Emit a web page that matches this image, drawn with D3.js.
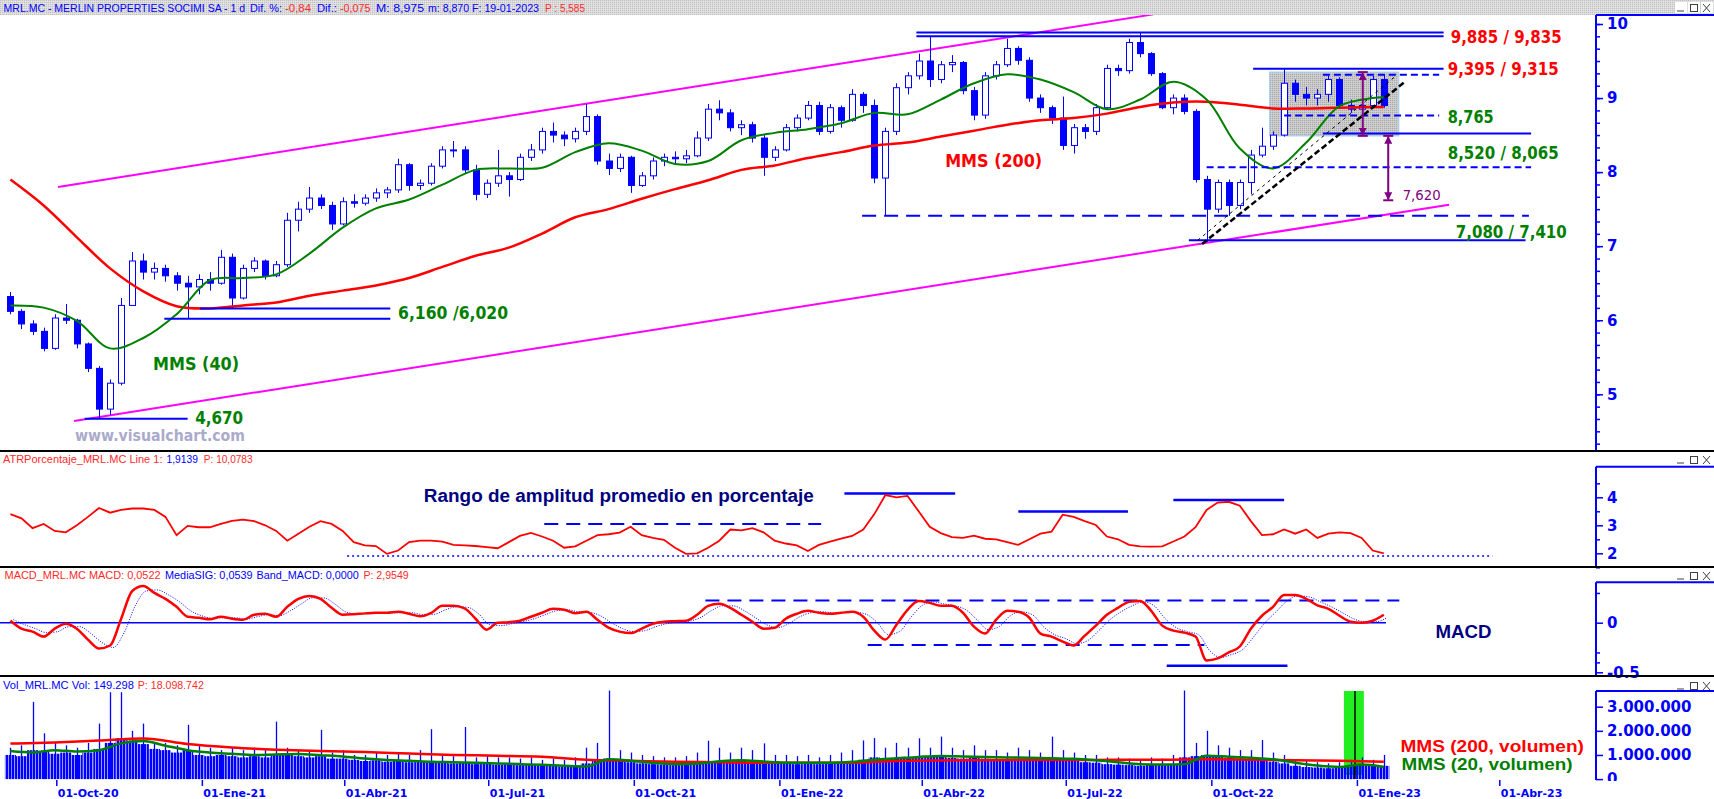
<!DOCTYPE html>
<html>
<head>
<meta charset="utf-8">
<title>MRL.MC</title>
<script src="https://cdn.jsdelivr.net/npm/d3@7/dist/d3.min.js"></script>
<style>
  body { margin: 0; background: #fff; }
  svg { display: block; font-family: "DejaVu Sans", Verdana, sans-serif; }
</style>
</head>
<body>
<div id="chart"></div>
<script>
// weekly values; week 0 = week of 31-Aug-2020, last = week of 16-Jan-2023
const firstWeekMid = new Date(2020, 8, 2);

const open = [
  6.32,6.12,5.95,5.85,5.62,6.03,6.00,5.68,5.35,4.80,
  5.15,6.20,6.80,6.65,6.70,6.60,6.50,6.45,6.55,6.50,
  6.85,6.30,6.70,6.80,6.60,6.75,7.35,7.50,7.65,7.55,
  7.30,7.60,7.58,7.65,7.72,7.76,8.10,7.82,7.85,8.08,
  8.30,8.30,8.03,7.70,7.85,7.95,7.90,8.20,8.30,8.55,
  8.50,8.45,8.55,8.75,8.15,8.05,8.20,7.82,7.95,8.15,
  8.20,8.18,8.22,8.46,8.85,8.80,8.60,8.64,8.46,8.20,
  8.30,8.60,8.73,8.90,8.55,8.87,8.70,9.05,8.90,7.92,
  8.55,9.14,9.30,9.50,9.25,9.45,9.48,9.10,8.77,9.30,
  9.45,9.67,9.51,9.00,8.87,8.73,8.36,8.60,8.55,8.87,
  9.40,9.37,9.75,9.60,9.33,8.87,9.00,8.82,7.90,7.50,
  7.86,7.55,7.86,8.23,8.35,8.50,9.20,9.05,9.00,9.05,
  9.25,8.90,8.85,8.90,9.25];
const high = [
  6.38,6.15,6.00,5.90,6.08,6.22,6.02,5.70,5.38,5.20,
  6.30,6.92,6.90,6.78,6.75,6.65,6.60,6.62,6.65,6.95,
  6.90,6.75,6.85,6.82,6.80,7.45,7.60,7.80,7.70,7.60,
  7.66,7.70,7.70,7.78,7.80,8.18,8.12,7.90,8.12,8.35,
  8.42,8.35,8.10,7.90,8.30,8.00,8.25,8.38,8.60,8.67,
  8.55,8.60,8.92,8.78,8.25,8.25,8.22,8.00,8.20,8.25,
  8.28,8.30,8.55,8.92,8.97,8.85,8.70,8.68,8.50,8.35,
  8.65,8.78,8.96,8.95,8.92,8.90,9.12,9.08,8.98,8.60,
  9.20,9.35,9.60,9.835,9.50,9.58,9.50,9.15,9.35,9.50,
  9.80,9.70,9.55,9.05,8.90,9.02,8.65,8.65,8.92,9.45,
  9.45,9.80,9.885,9.62,9.35,9.05,9.05,8.85,7.95,7.90,
  7.90,7.90,8.30,8.60,8.55,9.395,9.25,9.15,9.12,9.30,
  9.28,8.98,8.95,9.30,9.32];
const low = [
  6.08,5.88,5.80,5.58,5.60,5.95,5.62,5.30,4.67,4.72,
  5.12,6.20,6.55,6.55,6.52,6.40,6.02,6.35,6.40,6.48,
  6.16,6.28,6.65,6.55,6.58,6.72,7.20,7.45,7.50,7.22,
  7.28,7.52,7.55,7.60,7.65,7.72,7.75,7.76,7.82,8.05,
  8.20,7.98,7.62,7.65,7.80,7.67,7.88,8.15,8.25,8.40,
  8.35,8.40,8.50,8.10,7.96,8.00,7.72,7.80,7.90,8.08,
  8.10,8.12,8.20,8.42,8.70,8.55,8.50,8.40,7.95,8.15,
  8.28,8.55,8.70,8.50,8.52,8.60,8.68,8.80,7.85,7.41,
  8.50,9.05,9.25,9.15,9.20,9.35,9.05,8.70,8.72,9.25,
  9.42,9.45,8.95,8.80,8.65,8.30,8.25,8.45,8.50,8.85,
  9.30,9.33,9.55,9.30,8.85,8.78,8.78,7.86,7.06,7.45,
  7.41,7.50,7.70,8.20,8.30,8.48,8.95,8.90,8.90,8.95,
  8.85,8.80,8.80,8.88,8.87];
const close = [
  6.12,5.95,5.85,5.62,6.03,6.00,5.68,5.35,4.80,5.15,
  6.20,6.80,6.65,6.70,6.60,6.50,6.45,6.55,6.50,6.85,
  6.30,6.70,6.80,6.60,6.75,7.35,7.50,7.65,7.55,7.30,
  7.60,7.58,7.65,7.72,7.76,8.10,7.82,7.85,8.08,8.30,
  8.30,8.03,7.70,7.85,7.95,7.90,8.20,8.30,8.55,8.50,
  8.45,8.55,8.75,8.15,8.05,8.20,7.82,7.95,8.15,8.20,
  8.18,8.22,8.46,8.85,8.80,8.60,8.64,8.46,8.20,8.30,
  8.60,8.73,8.90,8.55,8.87,8.70,9.05,8.90,7.92,8.55,
  9.14,9.30,9.50,9.25,9.45,9.48,9.10,8.77,9.30,9.45,
  9.67,9.51,9.00,8.87,8.73,8.36,8.60,8.55,8.87,9.40,
  9.37,9.75,9.60,9.33,8.87,9.00,8.82,7.90,7.50,7.86,
  7.55,7.86,8.23,8.35,8.50,9.20,9.05,9.00,9.05,9.25,
  8.90,8.85,8.90,9.25,8.90];

// moving averages on price, sampled every 3 weeks
const maWeeks = [0,3,6,9,12,15,18,21,24,27,30,33,36,39,42,45,48,51,54,57,60,63,66,69,72,75,78,81,84,87,90,93,96,99,102,105,108,111,114,117,120,123,124];
const mms200 = [7.90,7.55,7.12,6.70,6.39,6.19,6.16,6.20,6.24,6.33,6.40,6.47,6.57,6.72,6.87,6.98,7.17,7.39,7.50,7.64,7.77,7.89,8.03,8.09,8.19,8.27,8.36,8.40,8.48,8.56,8.64,8.70,8.73,8.79,8.88,8.94,8.95,8.91,8.86,8.86,8.87,8.88,8.88];
const mms40 = [6.20,6.17,5.99,5.62,5.76,6.08,6.54,6.57,6.62,6.90,7.25,7.51,7.63,7.83,8.03,8.05,8.06,8.27,8.39,8.29,8.11,8.15,8.43,8.53,8.58,8.66,8.80,8.78,8.98,9.20,9.32,9.25,9.08,8.85,8.98,9.22,8.98,8.32,8.05,8.40,8.89,9.00,9.01];

// ATR %
const atr = [
  3.40,3.25,2.90,3.05,2.80,2.75,3.00,3.30,3.62,3.45,
  3.55,3.60,3.60,3.55,3.30,2.65,2.98,2.93,2.93,3.05,
  3.16,3.20,3.15,3.00,2.80,2.45,2.70,2.95,3.15,3.05,
  2.80,2.40,2.28,2.26,1.98,2.10,2.40,2.45,2.45,2.42,
  2.30,2.28,2.26,2.22,2.18,2.40,2.62,2.73,2.60,2.45,
  2.20,2.25,2.45,2.65,2.68,2.74,2.95,2.65,2.55,2.48,
  2.20,1.98,2.00,2.20,2.45,2.85,2.82,2.90,2.75,2.45,
  2.35,2.28,2.08,2.30,2.42,2.52,2.62,2.85,3.40,4.08,
  4.00,4.05,3.50,2.95,2.72,2.58,2.55,2.63,2.52,2.50,
  2.40,2.30,2.50,2.70,2.77,3.38,3.30,3.15,3.01,2.60,
  2.50,2.30,2.25,2.24,2.25,2.42,2.60,2.93,3.55,3.81,
  3.84,3.70,3.15,2.65,2.68,2.85,2.70,2.85,2.55,2.70,
  2.75,2.72,2.55,2.10,2.00];

// MACD and signal
const macd = [
  0.02,-0.06,-0.09,-0.14,-0.06,-0.01,-0.06,-0.17,-0.26,-0.23,
  0.04,0.32,0.37,0.30,0.24,0.16,0.06,0.05,0.035,0.06,
  0.04,0.03,0.08,0.09,0.06,0.16,0.24,0.27,0.24,0.15,
  0.08,0.085,0.094,0.10,0.10,0.11,0.09,0.065,0.10,0.17,
  0.17,0.145,0.04,-0.07,0.0,0.005,0.02,0.06,0.10,0.14,
  0.13,0.095,0.11,0.03,-0.05,-0.09,-0.105,-0.06,-0.01,0.01,
  0.015,0.02,0.08,0.17,0.19,0.15,0.08,0.01,-0.06,-0.05,
  0.04,0.09,0.12,0.10,0.09,0.10,0.11,0.06,-0.08,-0.17,
  -0.02,0.13,0.22,0.20,0.17,0.17,0.10,-0.04,-0.11,0.03,
  0.12,0.11,0.05,-0.11,-0.14,-0.19,-0.23,-0.13,-0.03,0.08,
  0.15,0.21,0.22,0.12,-0.03,-0.08,-0.10,-0.14,-0.38,-0.36,
  -0.30,-0.24,-0.06,0.07,0.16,0.28,0.28,0.24,0.175,0.14,
  0.07,0.01,0.0,0.02,0.08];
const macdSig = [
  0.03,-0.02,-0.06,-0.10,-0.09,-0.04,-0.04,-0.11,-0.20,-0.25,
  -0.10,0.17,0.32,0.33,0.28,0.21,0.12,0.07,0.045,0.05,
  0.05,0.035,0.06,0.08,0.07,0.12,0.19,0.25,0.25,0.19,
  0.11,0.09,0.09,0.095,0.10,0.10,0.10,0.08,0.085,0.13,
  0.16,0.155,0.09,-0.02,-0.03,-0.01,0.01,0.04,0.08,0.12,
  0.13,0.11,0.105,0.07,0.0,-0.06,-0.09,-0.08,-0.04,-0.01,
  0.005,0.015,0.05,0.12,0.17,0.17,0.12,0.05,-0.02,-0.05,
  -0.01,0.06,0.10,0.11,0.10,0.10,0.105,0.085,0.0,-0.12,
  -0.09,0.05,0.17,0.21,0.19,0.17,0.13,0.03,-0.07,-0.04,
  0.07,0.11,0.08,-0.04,-0.12,-0.16,-0.21,-0.18,-0.08,0.03,
  0.11,0.17,0.21,0.17,0.04,-0.05,-0.09,-0.12,-0.28,-0.35,
  -0.32,-0.27,-0.14,0.0,0.11,0.22,0.27,0.26,0.21,0.16,
  0.10,0.04,0.01,0.01,0.05];

// volume in millions: typical daily level of the week and the week's peak day
const volAvg = [
  1.00,0.95,1.20,1.15,1.05,1.10,1.00,1.10,1.25,1.50,
  1.70,1.60,1.45,1.25,1.20,1.10,1.20,1.00,0.95,1.00,
  0.95,0.90,0.95,0.90,1.00,1.00,0.95,0.90,0.95,0.85,
  0.85,0.80,0.75,0.78,0.72,0.75,0.70,0.72,0.68,0.70,
  0.65,0.70,0.62,0.65,0.60,0.62,0.58,0.60,0.55,0.58,
  0.52,0.55,0.65,0.80,0.85,0.75,0.70,0.65,0.62,0.60,
  0.58,0.60,0.65,0.75,0.75,0.72,0.75,0.70,0.72,0.65,
  0.65,0.62,0.65,0.62,0.65,0.68,0.70,0.80,0.90,0.85,
  0.85,0.88,0.90,0.92,0.95,0.88,0.85,0.90,0.85,0.82,
  0.80,0.85,0.82,0.80,0.85,0.78,0.75,0.70,0.68,0.62,
  0.60,0.58,0.55,0.60,0.58,0.62,0.90,0.95,1.00,0.92,
  0.88,0.85,0.82,0.80,0.72,0.65,0.55,0.50,0.48,0.45,
  0.50,0.55,0.60,0.55,0.55];
const volMax = [
  1.30,1.40,3.20,1.90,1.50,1.40,1.30,1.50,2.30,3.60,
  3.60,2.00,2.30,1.50,1.50,1.40,2.25,1.40,1.30,1.20,
  1.30,1.20,1.30,1.20,2.38,1.30,1.20,1.20,2.04,1.10,
  1.20,1.00,1.00,1.10,1.00,1.05,1.00,1.20,2.07,1.00,
  0.95,2.16,0.90,0.95,0.90,0.90,0.85,0.90,0.80,0.85,
  0.80,0.90,1.30,1.50,3.67,1.20,1.10,1.00,0.95,0.90,
  0.90,0.95,1.10,1.59,1.30,1.10,1.30,1.20,1.48,1.00,
  1.00,0.95,1.00,0.90,1.00,1.10,1.20,1.60,1.70,1.30,
  1.50,1.30,1.69,1.30,1.76,1.30,1.20,1.40,1.20,1.20,
  1.10,1.30,1.20,1.10,1.76,1.20,1.10,1.00,1.00,0.90,
  0.90,0.85,0.80,0.90,0.85,1.00,3.67,1.50,2.00,1.40,
  1.30,1.20,1.20,1.62,1.10,1.00,0.80,0.75,0.70,0.65,
  0.70,0.80,0.90,0.80,1.00];
const vma200Weeks = [0,4,8,12,16,20,24,28,32,36,40,44,48,52,56,60,64,68,72,76,80,84,88,92,96,100,104,108,112,116,120,124];
const volMms200 = [1.47,1.52,1.60,1.68,1.45,1.31,1.22,1.16,1.12,1.06,1.00,0.97,0.93,0.80,0.76,0.72,0.70,0.68,0.68,0.68,0.75,0.77,0.78,0.79,0.79,0.80,0.80,0.82,0.80,0.78,0.76,0.72];
const vma20Weeks = [0,2,4,6,8,10,12,14,16,18,20,22,24,26,28,30,32,34,36,38,40,42,44,46,48,50,52,54,56,58,60,62,64,66,68,70,72,74,76,78,80,82,84,86,88,90,92,94,96,98,100,102,104,106,108,110,112,114,116,118,120,122,124];
const volMms20 = [1.16,1.10,1.20,1.14,1.20,1.48,1.58,1.38,1.20,1.10,1.05,1.00,1.02,1.04,0.99,0.94,0.85,0.79,0.76,0.72,0.70,0.68,0.65,0.62,0.59,0.55,0.52,0.82,0.76,0.67,0.62,0.64,0.74,0.78,0.73,0.68,0.68,0.68,0.72,0.80,0.86,0.92,0.96,0.94,0.92,0.90,0.88,0.86,0.84,0.78,0.70,0.62,0.60,0.62,0.97,0.93,0.88,0.82,0.68,0.56,0.50,0.60,0.50];

// axis ticks
const priceTicks = [5, 6, 7, 8, 9, 10];
const atrTicks = [2, 3, 4];
const macdTicks = [0, -0.5];
const macdLabels = ["0", "-0.5"];
const volTicks = [0, 1, 2, 3];
const volLabels = ["0", "1.000.000", "2.000.000", "3.000.000"];
const dateTicks = ["2020-10-01","2021-01-01","2021-04-01","2021-07-01","2021-10-01","2022-01-01","2022-04-01","2022-07-01","2022-10-01","2023-01-01","2023-04-01"];
const dateLabels = ["01-Oct-20","01-Ene-21","01-Abr-21","01-Jul-21","01-Oct-21","01-Ene-22","01-Abr-22","01-Jul-22","01-Oct-22","01-Ene-23","01-Abr-23"];

// drawn annotations (week index, value)
const channels = [[4.3, 7.80, 103.2, 10.13], [5.75, 4.64, 129.9, 7.56]];
const levels = [
  [9.885, 81.8, 129.4, "solid"], [9.835, 81.8, 129.4, "solid"],
  [9.395, 112.2, 129.4, "solid"], [9.315, 118.5, 129, "dash"],
  [8.765, 115, 129, "dash"], [8.520, 118.5, 137.3, "solid"],
  [8.065, 108, 137.3, "dash"], [7.410, 76.9, 137.1, "long"],
  [7.080, 106.4, 136.8, "solid"], [6.160, 17.1, 34.3, "solid"],
  [6.020, 13.9, 34.3, "solid"], [4.670, 6.7, 16, "solid"]
];
const rangeBox = [113.7, 125.35, 9.35, 8.49];
const trendThick = [107.6, 7.03, 126, 9.23];
const trendThin = [107.2, 7.08, 125.1, 9.30];
const arrows = [[122.1, 9.35, 8.49], [124.4, 8.49, 7.62]];
const atrLevels = [[1.9, 30.4, 133.8, "dot"], [3.05, 48.2, 73.2, "long"], [4.14, 75.3, 85.3, "solid"], [3.49, 91, 100.9, "solid"], [3.9, 105, 115, "solid"]];
const macdLevels = [[0.225, 62.75, 125.4, "long"], [-0.225, 77.4, 107.8, "long"], [-0.433, 104.4, 115.3, "solid"]];
const volMark = [120.4, 122.2, 121.4];

const W = 1714, H = 799, AX = 1596;
const BLUE = "#0000ff", RED = "#ff0000", GREEN = "#008000", MAG = "#ff00ff", NAVY = "#000080", PURPLE = "#800080";
const parse = d3.timeParse("%Y-%m-%d");

const svg = d3.select("#chart").append("svg").attr("width", W).attr("height", H);
const defs = svg.append("defs");

const x = d3.scaleTime().domain([parse("2020-10-01"), parse("2023-01-01")]).range([56.3, 1356.9]);
const wx = k => x(new Date(firstWeekMid.getTime() + k * 7 * 864e5));

const yP = d3.scaleLinear().domain([5, 10]).range([394.3, 24]);
const yA = d3.scaleLinear().domain([2, 4]).range([553.3, 497.3]);
const yM = d3.scaleLinear().domain([-0.5, 0]).range([672.3, 622.7]);
const yV = d3.scaleLinear().domain([0, 3]).range([779.1, 706.7]);

// patterns, clips, markers
function dither(id, base, a, b) {
  const p = defs.append("pattern").attr("id", id).attr("width", 2).attr("height", 2).attr("patternUnits", "userSpaceOnUse");
  p.append("rect").attr("width", 2).attr("height", 2).attr("fill", base);
  p.append("rect").attr("width", 1).attr("height", 1).attr("fill", a);
  p.append("rect").attr("x", 1).attr("y", 1).attr("width", 1).attr("height", 1).attr("fill", b);
}
dither("hdr", "#dadada", "#c2c2c2", "#e6e6e6");
dither("box", "#c8c8c8", "#a8a8a8", "#d4d4d4");
const vp = defs.append("pattern").attr("id", "vstripe").attr("width", 3).attr("height", 4).attr("patternUnits", "userSpaceOnUse");
vp.append("rect").attr("width", 2.4).attr("height", 4).attr("fill", BLUE);

function clip(id, top, bottom) {
  defs.append("clipPath").attr("id", id).append("rect").attr("x", 0).attr("y", top).attr("width", AX - 1).attr("height", bottom - top);
}
clip("c-main", 15, 450); clip("c-atr", 452, 566); clip("c-macd", 568, 675); clip("c-vol", 677, 780);

defs.append("marker").attr("id", "arr").attr("viewBox", "0 0 8 8").attr("refX", 7).attr("refY", 4)
  .attr("markerWidth", 8).attr("markerHeight", 8).attr("markerUnits", "userSpaceOnUse")
  .attr("orient", "auto-start-reverse")
  .append("path").attr("d", "M0,0 L8,4 L0,8 z").attr("fill", PURPLE);

const dashes = { solid: null, dash: "7,4", long: "14,8", dot: "2,3" };

// header bar
svg.append("rect").attr("width", W).attr("height", 15).attr("fill", "url(#hdr)");
function title(parts, yc, size) {
  const t = svg.append("g");
  parts.forEach(p => {
    t.append("text").attr("x", p[1]).attr("y", yc).attr("dy", "0.36em")
      .attr("textLength", p[2]).attr("lengthAdjust", "spacingAndGlyphs")
      .attr("fill", p[3]).style("font", `${size}px 'Liberation Sans', Arial, sans-serif`).text(p[0]);
  });
}
const HR = "#ff2a2a";
title([["MRL.MC - MERLIN PROPERTIES SOCIMI SA -  1 d", 3.6, 241.4, BLUE], ["Dif. %:", 250, 32, BLUE],
  ["-0,84", 285, 26, HR], ["Dif.:", 317, 20, BLUE], ["-0,075", 340, 30.5, HR], ["M: 8,975", 376, 48, BLUE],
  ["m: 8,870", 428, 41, BLUE], ["F: 19-01-2023", 472, 67, BLUE], ["P : 5,585", 545, 40, HR]], 8, 10);
title([["ATRPorcentaje_MRL.MC Line 1:", 2.9, 159.6, HR], ["1,9139", 166.5, 31.5, BLUE], ["P: 10,0783", 203.8, 48.8, HR]], 459, 11);
title([["MACD_MRL.MC MACD: 0,0522", 4.6, 156, HR], ["MediaSIG: 0,0539", 165, 87.6, BLUE], ["Band_MACD: 0,0000", 256.6, 102.2, BLUE], ["P: 2,9549", 363.4, 45.3, HR]], 575, 11);
title([["Vol_MRL.MC Vol: 149.298", 2.9, 131, BLUE], ["P: 18.098.742", 137.8, 66, HR]], 685, 11);

// window buttons
function buttons(yc, boxed) {
  const b = svg.append("g").attr("stroke", "#404040").attr("fill", "none").attr("stroke-width", 1);
  [1676, 1689, 1702].forEach((bx, i) => {
    if (boxed) b.append("rect").attr("x", bx - 1).attr("y", yc - 6).attr("width", 12).attr("height", 11).attr("fill", "#fff").attr("stroke", "none");
    if (i === 0) b.append("line").attr("x1", bx + 1).attr("x2", bx + 8).attr("y1", yc + 3).attr("y2", yc + 3);
    if (i === 1) b.append("rect").attr("x", bx + 1.5).attr("y", yc - 3.5).attr("width", 7).attr("height", 7);
    if (i === 2) { b.append("line").attr("x1", bx + 1).attr("x2", bx + 8).attr("y1", yc - 4).attr("y2", yc + 4);
                   b.append("line").attr("x1", bx + 8).attr("x2", bx + 1).attr("y1", yc - 4).attr("y2", yc + 4); }
  });
}
buttons(8, true); buttons(460, false); buttons(576, false); buttons(686, false);

function hline(g, scale, lv, width, color) {
  g.selectAll(null).data(lv).join("line")
    .attr("x1", d => wx(d[1])).attr("x2", d => wx(d[2]))
    .attr("y1", d => scale(d[0])).attr("y2", d => scale(d[0]))
    .attr("stroke", color).attr("stroke-width", d => d[3] === "solid" ? width : (d[3] === "dot" ? 1.5 : 2))
    .attr("stroke-dasharray", d => dashes[d[3]]);
}
function label(g, txt, k, yc, color, w, size, weight, fam) {
  g.append("text").attr("x", wx(k)).attr("y", yc).attr("dy", "0.36em")
    .attr("textLength", w).attr("lengthAdjust", "spacingAndGlyphs")
    .attr("fill", color).style("font", `${weight} ${size}px ${fam || "'DejaVu Sans', Verdana, sans-serif"}`).text(txt);
}

// ---------- price panel ----------
const gm = svg.append("g").attr("clip-path", "url(#c-main)");
gm.append("rect").attr("x", wx(rangeBox[0])).attr("width", wx(rangeBox[1]) - wx(rangeBox[0]))
  .attr("y", yP(rangeBox[2])).attr("height", yP(rangeBox[3]) - yP(rangeBox[2]))
  .attr("fill", "url(#box)").attr("stroke", "#a6cdf0").attr("stroke-width", 1.2);

gm.selectAll("line.ch").data(channels).join("line")
  .attr("x1", d => wx(d[0])).attr("y1", d => yP(d[1])).attr("x2", d => wx(d[2])).attr("y2", d => yP(d[3]))
  .attr("stroke", MAG).attr("stroke-width", 2);

const weeks = d3.range(close.length);
gm.selectAll("line.wick").data(weeks).join("line")
  .attr("x1", k => Math.round(wx(k)) + 0.5).attr("x2", k => Math.round(wx(k)) + 0.5)
  .attr("y1", k => yP(high[k])).attr("y2", k => yP(low[k]))
  .attr("stroke", BLUE).attr("stroke-width", 1);
gm.selectAll("rect.body").data(weeks).join("rect")
  .attr("x", k => Math.round(wx(k)) - 2.5).attr("width", 6)
  .attr("y", k => yP(Math.max(open[k], close[k])))
  .attr("height", k => Math.max(1, Math.abs(yP(open[k]) - yP(close[k]))))
  .attr("fill", k => close[k] >= open[k] ? "#fff" : BLUE)
  .attr("stroke", BLUE).attr("stroke-width", 1);

const maLine = d3.line().x(d => wx(d[0])).y(d => yP(d[1])).curve(d3.curveCatmullRom);
gm.append("path").attr("d", maLine(maWeeks.map((k, i) => [k, mms200[i]])))
  .attr("fill", "none").attr("stroke", RED).attr("stroke-width", 2.5);
gm.append("path").attr("d", maLine(maWeeks.map((k, i) => [k, mms40[i]])))
  .attr("fill", "none").attr("stroke", GREEN).attr("stroke-width", 2);

hline(gm, yP, levels, 2, BLUE);

gm.append("line").attr("x1", wx(trendThin[0])).attr("y1", yP(trendThin[1])).attr("x2", wx(trendThin[2])).attr("y2", yP(trendThin[3]))
  .attr("stroke", "#000").attr("stroke-width", 1).attr("stroke-dasharray", "3,4");
gm.append("line").attr("x1", wx(trendThick[0])).attr("y1", yP(trendThick[1])).attr("x2", wx(trendThick[2])).attr("y2", yP(trendThick[3]))
  .attr("stroke", "#000").attr("stroke-width", 2.5).attr("stroke-dasharray", "6,3");

arrows.forEach(a => {
  gm.append("line").attr("x1", wx(a[0])).attr("x2", wx(a[0])).attr("y1", yP(a[1]) + 1).attr("y2", yP(a[2]) - 1)
    .attr("stroke", PURPLE).attr("stroke-width", 2)
    .attr("marker-start", "url(#arr)").attr("marker-end", "url(#arr)");
  [a[1], a[2]].forEach(v => gm.append("line").attr("x1", wx(a[0]) - 5).attr("x2", wx(a[0]) + 5)
    .attr("y1", yP(v)).attr("y2", yP(v)).attr("stroke", PURPLE).attr("stroke-width", 2));
});

label(gm, "MMS (200)", 84.4, yP(8.153), RED, 97, 17, "bold");
label(gm, "MMS (40)", 12.88, yP(5.405), GREEN, 86, 17, "bold");
label(gm, "4,670", 16.68, yP(4.676), GREEN, 48, 17, "bold");
label(gm, "www.visualchart.com", 5.83, yP(4.446), "#aaaacc", 170, 16, "bold");
label(gm, "6,160 /6,020", 35.0, yP(6.10), GREEN, 110, 17, "bold");
label(gm, "9,885 / 9,835", 130.04, yP(9.828), RED, 111, 17, "bold");
label(gm, "9,395 / 9,315", 129.77, yP(9.392), RED, 111, 17, "bold");
label(gm, "8,765", 129.77, yP(8.747), GREEN, 46, 17, "bold");
label(gm, "8,520 / 8,065", 129.77, yP(8.261), GREEN, 111, 17, "bold");
label(gm, "7,080 / 7,410", 130.5, yP(7.193), GREEN, 111, 17, "bold");
label(gm, "7,620", 125.7, yP(7.69), PURPLE, 38, 14, "normal");

// ---------- ATR panel ----------
const ga = svg.append("g").attr("clip-path", "url(#c-atr)");
hline(ga, yA, atrLevels, 2.5, BLUE);
ga.append("path").attr("d", d3.line().x((d, i) => wx(i)).y(d => yA(d))(atr))
  .attr("fill", "none").attr("stroke", RED).attr("stroke-width", 1.8);
label(ga, "Rango de amplitud promedio en porcentaje", 37.33, yA(4.057), NAVY, 390, 18, "bold", "'Liberation Sans', Arial, sans-serif");

// ---------- MACD panel ----------
const gc = svg.append("g").attr("clip-path", "url(#c-macd)");
gc.append("line").attr("x1", wx(-1)).attr("x2", wx(124.2)).attr("y1", yM(0)).attr("y2", yM(0))
  .attr("stroke", BLUE).attr("stroke-width", 1.5);
hline(gc, yM, macdLevels, 2.5, BLUE);
gc.append("path").attr("d", d3.line().x((d, i) => wx(i) + 3).y(d => yM(d)).curve(d3.curveMonotoneX)(macdSig))
  .attr("fill", "none").attr("stroke", BLUE).attr("stroke-width", 1).attr("stroke-dasharray", "1,1.5");
gc.append("path").attr("d", d3.line().x((d, i) => wx(i)).y(d => yM(d)).curve(d3.curveMonotoneX)(macd))
  .attr("fill", "none").attr("stroke", RED).attr("stroke-width", 2.5);
label(gc, "MACD", 128.67, yM(-0.0907), NAVY, 56, 18, "bold", "'Liberation Sans', Arial, sans-serif");

// ---------- volume panel ----------
const gv = svg.append("g").attr("clip-path", "url(#c-vol)");
gv.append("rect").attr("x", wx(volMark[0])).attr("width", wx(volMark[1]) - wx(volMark[0]))
  .attr("y", yV(3.65)).attr("height", yV(0.17) - yV(3.65)).attr("fill", "#22ee22");
const bw = wx(1) - wx(0);
gv.selectAll("rect.vb").data(weeks).join("rect")
  .attr("x", k => wx(k) - bw / 2).attr("width", bw)
  .attr("y", k => yV(volAvg[k])).attr("height", k => yV(0) - yV(volAvg[k]))
  .attr("fill", "url(#vstripe)");
gv.selectAll("line.vs").data(weeks).join("line")
  .attr("x1", k => Math.round(wx(k)) + 0.5).attr("x2", k => Math.round(wx(k)) + 0.5)
  .attr("y1", yV(0)).attr("y2", k => yV(volMax[k]))
  .attr("stroke", BLUE).attr("stroke-width", 1.3);
gv.append("line").attr("x1", wx(volMark[2])).attr("x2", wx(volMark[2])).attr("y1", yV(3.65)).attr("y2", yV(0))
  .attr("stroke", "#000").attr("stroke-width", 1.5);
const vLine = d3.line().x(d => wx(d[0])).y(d => yV(d[1])).curve(d3.curveMonotoneX);
gv.append("path").attr("d", vLine(vma200Weeks.map((k, i) => [k, volMms200[i]])))
  .attr("fill", "none").attr("stroke", RED).attr("stroke-width", 2.5);
gv.append("path").attr("d", vLine(vma20Weeks.map((k, i) => [k, volMms20[i]])))
  .attr("fill", "none").attr("stroke", GREEN).attr("stroke-width", 2.5);
label(gv, "MMS (200, volumen)", 125.5, yV(1.386), RED, 183.5, 17, "bold", "'Liberation Sans', Arial, sans-serif");
label(gv, "MMS (20, volumen)", 125.6, yV(0.614), GREEN, 171, 17, "bold", "'Liberation Sans', Arial, sans-serif");

// ---------- right axes ----------
function rightAxis(scale, top, bottom, majors, labels, minors, clipId) {
  const g = svg.append("g").attr("transform", `translate(${AX},0)`);
  if (clipId) g.attr("clip-path", clipId);
  g.append("line").attr("y1", top).attr("y2", bottom).attr("stroke", BLUE).attr("stroke-width", 2);
  g.append("line").attr("x2", W - AX).attr("y1", top).attr("y2", top).attr("stroke", BLUE).attr("stroke-width", 2);
  if (minors.length) g.append("g").call(d3.axisRight(scale).tickValues(minors).tickSize(4).tickFormat(""))
    .call(s => s.select(".domain").remove());
  g.append("g").call(d3.axisRight(scale).tickValues(majors).tickSize(7).tickPadding(4).tickFormat((d, i) => labels[i]))
    .call(s => s.select(".domain").remove());
  g.selectAll(".tick line").attr("stroke", BLUE).attr("stroke-width", 1.5);
  g.selectAll(".tick text").attr("fill", BLUE).style("font", "bold 15px 'DejaVu Sans', Verdana, sans-serif");
}
defs.append("clipPath").attr("id", "c-vax").append("rect").attr("x", -2).attr("y", 680).attr("width", 200).attr("height", 101);
rightAxis(yP, 15, 451, priceTicks, priceTicks.map(String), d3.range(26, 61).map(i => i / 6));
rightAxis(yA, 466.7, 567, atrTicks, atrTicks.map(String), [1.5, 2.5, 3.5, 4.5]);
rightAxis(yM, 582.3, 676, macdTicks, macdLabels, [0.3, -0.3, -0.4]);
rightAxis(yV, 691, 780, volTicks, volLabels, [], "url(#c-vax)");

// ---------- date axis ----------
const dax = svg.append("g").attr("transform", "translate(0,780)")
  .call(d3.axisBottom(x).tickValues(dateTicks.map(parse)).tickSize(6).tickPadding(3).tickFormat((d, i) => dateLabels[i]));
dax.select(".domain").remove();
dax.selectAll(".tick line").attr("stroke", BLUE).attr("stroke-width", 1.5);
dax.selectAll(".tick text").attr("fill", BLUE).attr("text-anchor", "start").attr("x", 1)
  .style("font", "bold 11px 'DejaVu Sans', Verdana, sans-serif");

// panel separators
svg.selectAll("line.sep").data([451, 567, 676]).join("line")
  .attr("x1", 0).attr("x2", W).attr("y1", d => d).attr("y2", d => d)
  .attr("stroke", "#000").attr("stroke-width", 2);
</script>
</body>
</html>
